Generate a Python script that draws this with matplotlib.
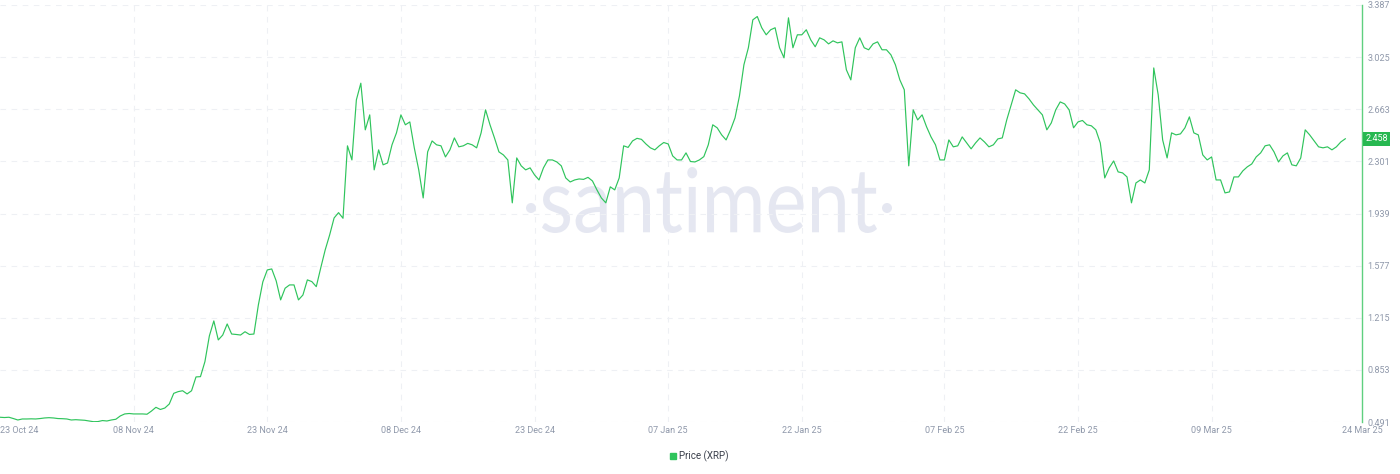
import pandas as pd
import matplotlib
matplotlib.use("Agg")
import matplotlib.pyplot as plt
from matplotlib.lines import Line2D
from matplotlib.patches import PathPatch, Circle
from matplotlib.textpath import TextPath
from matplotlib.transforms import Affine2D, blended_transform_factory
from matplotlib.font_manager import FontProperties

plt.rcParams['font.family'] = ['Roboto', 'DejaVu Sans']

# XRP price, one value every 12 hours starting 24 Oct 2024
price = [
    0.524, 0.522, 0.524, 0.515, 0.505, 0.512, 0.512, 0.513, 0.512, 0.515,
    0.519, 0.521, 0.519, 0.515, 0.514, 0.512, 0.505, 0.507, 0.505, 0.503,
    0.498, 0.493, 0.494, 0.501, 0.498, 0.505, 0.510, 0.533, 0.547, 0.550,
    0.547, 0.547, 0.547, 0.545, 0.567, 0.593, 0.578, 0.588, 0.616, 0.690,
    0.702, 0.708, 0.686, 0.708, 0.804, 0.806, 0.910, 1.089, 1.193, 1.061,
    1.095, 1.172, 1.102, 1.099, 1.095, 1.118, 1.099, 1.102, 1.304, 1.464,
    1.547, 1.554, 1.471, 1.339, 1.420, 1.443, 1.443, 1.339, 1.373, 1.478,
    1.466, 1.431, 1.561, 1.686, 1.790, 1.908, 1.945, 1.906, 2.409, 2.311,
    2.728, 2.844, 2.520, 2.624, 2.242, 2.381, 2.277, 2.290, 2.416, 2.499,
    2.624, 2.555, 2.575, 2.395, 2.242, 2.047, 2.367, 2.443, 2.416, 2.409,
    2.332, 2.381, 2.464, 2.402, 2.409, 2.426, 2.416, 2.395, 2.499, 2.659,
    2.555, 2.464, 2.367, 2.346, 2.311, 2.013, 2.325, 2.270, 2.242, 2.256,
    2.207, 2.172, 2.256, 2.311, 2.311, 2.297, 2.270, 2.186, 2.158, 2.172,
    2.179, 2.176, 2.190, 2.165, 2.103, 2.047, 2.013, 2.124, 2.103, 2.186,
    2.409, 2.398, 2.443, 2.461, 2.454, 2.422, 2.395, 2.381, 2.409, 2.432,
    2.422, 2.339, 2.311, 2.311, 2.360, 2.300, 2.297, 2.311, 2.334, 2.416,
    2.555, 2.534, 2.485, 2.450, 2.520, 2.603, 2.756, 2.972, 3.090, 3.284,
    3.307, 3.229, 3.180, 3.215, 3.229, 3.090, 3.020, 3.298, 3.090, 3.180,
    3.180, 3.215, 3.145, 3.097, 3.159, 3.145, 3.117, 3.138, 3.124, 3.131,
    2.937, 2.867, 3.090, 3.159, 3.090, 3.076, 3.117, 3.131, 3.076, 3.076,
    3.041, 2.972, 2.867, 2.798, 2.270, 2.659, 2.589, 2.624, 2.541, 2.471,
    2.416, 2.311, 2.311, 2.450, 2.402, 2.409, 2.471, 2.429, 2.388, 2.429,
    2.464, 2.436, 2.402, 2.416, 2.457, 2.464, 2.589, 2.693, 2.798, 2.777,
    2.770, 2.735, 2.693, 2.659, 2.624, 2.520, 2.568, 2.659, 2.714, 2.700,
    2.659, 2.534, 2.575, 2.585, 2.555, 2.548, 2.520, 2.429, 2.186, 2.256,
    2.304, 2.228, 2.221, 2.193, 2.013, 2.151, 2.172, 2.151, 2.242, 2.950,
    2.763, 2.450, 2.325, 2.499, 2.485, 2.492, 2.534, 2.610, 2.499, 2.485,
    2.346, 2.311, 2.332, 2.172, 2.172, 2.082, 2.089, 2.193, 2.193, 2.235,
    2.263, 2.283, 2.332, 2.360, 2.409, 2.416, 2.367, 2.297, 2.339, 2.360,
    2.277, 2.270, 2.325, 2.520, 2.485, 2.443, 2.402, 2.395, 2.402, 2.381,
    2.402, 2.436, 2.458,
]
dates = pd.date_range('2024-10-24', periods=len(price), freq='12h')

x_start = pd.Timestamp('2024-10-24')
x_end = pd.Timestamp('2025-03-25 21:00')
mid_ticks = ['2024-11-08', '2024-11-23', '2024-12-08', '2024-12-23', '2025-01-07',
             '2025-01-22', '2025-02-07', '2025-02-22', '2025-03-09']
x_ticks = [x_start] + list(pd.to_datetime(mid_ticks)) + [x_end]
x_labels = ['23 Oct 24', '08 Nov 24', '23 Nov 24', '08 Dec 24', '23 Dec 24', '07 Jan 25',
            '22 Jan 25', '07 Feb 25', '22 Feb 25', '09 Mar 25', '24 Mar 25']
y_ticks = [0.491, 0.853, 1.215, 1.577, 1.939, 2.301, 2.663, 3.025, 3.387]

green = '#2fc45c'
tick_color = '#8f98aa'
grid_color = '#eef0f4'

fig = plt.figure(figsize=(14, 4.74), dpi=100)
ax = fig.add_axes([0, 52 / 474, 1362 / 1400, 417 / 474])

ax.plot(dates, price, color=green, linewidth=0.85, zorder=3)

ax.set_xlim(x_start, x_end)
ax.set_ylim(y_ticks[0], y_ticks[-1])

ax.set_xticks(x_ticks)
ax.set_xticklabels(x_labels)
ax.get_xticklabels()[0].set_ha('left')
ax.yaxis.tick_right()
ax.set_yticks(y_ticks)
ax.set_yticklabels([f'{v:.3f}' for v in y_ticks])
ax.tick_params(axis='x', length=0, pad=3, labelsize=6.5, labelcolor=tick_color)
ax.tick_params(axis='y', length=0, pad=4, labelsize=6.5, labelcolor=tick_color)

ax.yaxis.grid(True, color=grid_color, linestyle=(0, (5, 5)), linewidth=0.8)
for d in x_ticks[1:-1]:
    ax.axvline(d, color=grid_color, linestyle=(0, (5, 5)), linewidth=0.8, zorder=0.5)

for s in ['top', 'left', 'bottom']:
    ax.spines[s].set_visible(False)
ax.spines['right'].set_color('#5fd07f')
ax.spines['right'].set_linewidth(1.0)

# last value tag on the right axis
trans = blended_transform_factory(ax.transAxes, ax.transData)
ax.text(1.0025, price[-1], f'{price[-1]:.3f}', transform=trans, ha='left', va='center',
        fontsize=6.5, color='white', clip_on=False,
        bbox=dict(boxstyle='square,pad=0.25', fc='#27b851', ec='none'))

# watermark
tp = TextPath((0, 0), 'santiment', size=1, prop=FontProperties(family='Lato'))
ext = tp.get_extents()
wm = Affine2D().translate(-ext.x0, -ext.y0).scale(335 / ext.width, 66 / ext.height).translate(542, 241)
ax.add_patch(PathPatch(tp, transform=wm, fc='#e5e7f1', ec='none', zorder=1, clip_on=False))
for cx in [531, 887]:
    ax.add_patch(Circle((cx, 266), 5, transform=Affine2D(), fc='#e5e7f1', ec='none',
                        zorder=1, clip_on=False))

fig.legend(handles=[Line2D([], [], marker='s', color=green, linestyle='none', markersize=5)],
           labels=['Price (XRP)'], loc='center', bbox_to_anchor=(0.499, 0.038),
           frameon=False, fontsize=7, handletextpad=0.2, handlelength=0.8,
           labelcolor='#3a3f4b')

fig.savefig('out.png', dpi=100)
